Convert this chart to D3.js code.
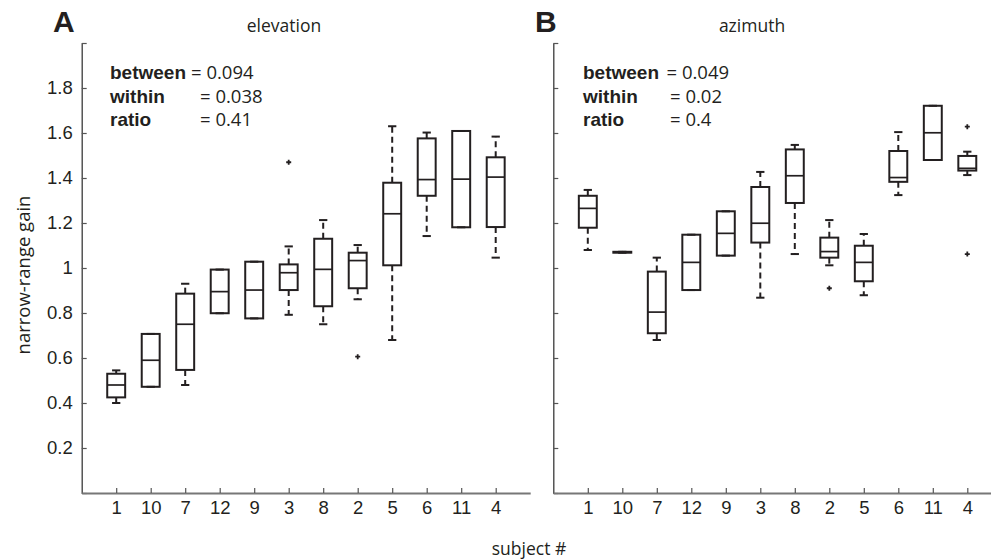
<!DOCTYPE html>
<html>
<head>
<meta charset="utf-8">
<script src="https://cdn.jsdelivr.net/npm/d3@7"></script>
<style>
  html, body { margin: 0; padding: 0; background: #fff; }
  svg { display: block; }
</style>
</head>
<body>
<svg id="chart" width="991" height="559"></svg>
<script>
// ---------- data ----------
const subjects = ["1","10","7","12","9","3","8","2","5","6","11","4"];
const yTicks = [0, 0.2, 0.4, 0.6, 0.8, 1, 1.2, 1.4, 1.6, 1.8, 2];

// elevation (panel A)
const elevLow    = [0.400, 0.472, 0.480, 0.799, 0.776, 0.792, 0.750, 0.861, 0.680, 1.142, 1.181, 1.046];
const elevQ1     = [0.425, 0.472, 0.547, 0.799, 0.776, 0.902, 0.830, 0.910, 1.012, 1.321, 1.181, 1.182];
const elevMedian = [0.480, 0.590, 0.750, 0.895, 0.902, 0.979, 0.994, 1.033, 1.241, 1.393, 1.395, 1.404];
const elevQ3     = [0.530, 0.707, 0.886, 0.993, 1.028, 1.016, 1.130, 1.068, 1.379, 1.576, 1.609, 1.492];
const elevHigh   = [0.545, 0.707, 0.930, 0.993, 1.028, 1.096, 1.213, 1.102, 1.630, 1.602, 1.609, 1.584];
const elevOutliers = [[], [], [], [], [], [1.47], [], [0.606], [], [], [], []];
const elevStats = ["0.094", "0.038", "0.41"];

// azimuth (panel B)
const aziLow    = [1.080, 1.068, 0.680, 0.902, 1.055, 0.868, 1.062, 1.012, 0.879, 1.324, 1.480, 1.413];
const aziQ1     = [1.179, 1.068, 0.710, 0.902, 1.055, 1.113, 1.289, 1.046, 0.941, 1.383, 1.480, 1.433];
const aziMedian = [1.265, 1.070, 0.804, 1.025, 1.154, 1.199, 1.410, 1.073, 1.025, 1.402, 1.601, 1.443];
const aziQ3     = [1.321, 1.072, 0.984, 1.148, 1.252, 1.360, 1.527, 1.135, 1.099, 1.520, 1.721, 1.498];
const aziHigh   = [1.347, 1.072, 1.046, 1.148, 1.252, 1.427, 1.547, 1.213, 1.151, 1.604, 1.721, 1.517];
const aziOutliers = [[], [], [], [], [], [], [], [0.91], [], [], [], [1.628, 1.062]];
const aziStats = ["0.049", "0.02", "0.4"];

const statNames = ["between", "within", "ratio"];

// ---------- drawing ----------
const svg = d3.select("#chart");
const ink = "#231f20";
const yTop = 43, yBottom = 493;
const y = d3.scaleLinear().domain([0, 2]).range([yBottom, yTop]);

function panel(opts) {
  const x = d3.scaleLinear().domain([0, 13]).range([opts.x0, opts.x0 + 448.5]);
  const g = svg.append("g");
  const step = x(1) - x(0);
  const bw = step * 0.26, cw = step * 0.12;

  // y axis
  const yAxis = d3.axisLeft(y).tickValues(yTicks).tickSizeInner(-5).tickSizeOuter(0).tickPadding(9)
    .tickFormat(d => (opts.yLabels && d > 0 && d < 2) ? String(+d.toFixed(1)) : "");
  const ya = g.append("g").attr("transform", `translate(${opts.x0},0)`).call(yAxis);
  ya.select(".domain").attr("stroke", "#3a3a3a").attr("stroke-width", 1.3);
  ya.selectAll(".tick line").attr("stroke", "#555").attr("stroke-width", 1.2);
  ya.selectAll(".tick text").attr("font-family", "Liberation Sans, Arial, sans-serif")
    .attr("font-size", 18.5).attr("fill", ink);

  // x axis
  const xAxis = d3.axisBottom(x).tickValues(d3.range(1, 13)).tickSizeInner(-5).tickSizeOuter(0).tickPadding(8)
    .tickFormat(d => subjects[d - 1]);
  const xa = g.append("g").attr("transform", `translate(0,${yBottom})`).call(xAxis);
  xa.select(".domain").attr("stroke", "#777").attr("stroke-width", 2);
  xa.selectAll(".tick line").attr("stroke", "#555").attr("stroke-width", 1.2);
  xa.selectAll(".tick text").attr("font-family", "Liberation Sans, Arial, sans-serif")
    .attr("font-size", 18.5).attr("fill", ink);

  // boxes
  const idx = d3.range(subjects.length);
  const bx = g.append("g").attr("fill", "none").attr("stroke", ink);
  idx.forEach(i => {
    const cx = x(i + 1);
    // whiskers (dashed)
    bx.append("line").attr("x1", cx).attr("x2", cx).attr("y1", y(opts.q3[i])).attr("y2", y(opts.high[i]))
      .attr("stroke-width", 2).attr("stroke-dasharray", "6,4");
    bx.append("line").attr("x1", cx).attr("x2", cx).attr("y1", y(opts.q1[i])).attr("y2", y(opts.low[i]))
      .attr("stroke-width", 2).attr("stroke-dasharray", "6,4");
    // caps
    [opts.high[i], opts.low[i]].forEach(v => {
      bx.append("line").attr("x1", cx - cw).attr("x2", cx + cw).attr("y1", y(v)).attr("y2", y(v))
        .attr("stroke-width", 2);
    });
    // box
    bx.append("rect").attr("x", cx - bw).attr("width", 2 * bw)
      .attr("y", y(opts.q3[i])).attr("height", Math.max(0.5, y(opts.q1[i]) - y(opts.q3[i])))
      .attr("stroke-width", 2).attr("fill", "none");
    // median
    bx.append("line").attr("x1", cx - bw).attr("x2", cx + bw).attr("y1", y(opts.median[i])).attr("y2", y(opts.median[i]))
      .attr("stroke-width", 1.7);
    // outliers
    opts.outliers[i].forEach(v => {
      bx.append("path").attr("d", `M${cx - 2.5},${y(v)}H${cx + 2.5}M${cx},${y(v) - 2.5}V${y(v) + 2.5}`)
        .attr("stroke-width", 1.8);
    });
  });

  // title + letter
  g.append("text").attr("x", opts.titleX).attr("y", 32).attr("text-anchor", "middle")
    .attr("font-family", "Open Sans, sans-serif").attr("font-size", 17.5).attr("fill", ink).text(opts.title);
  g.append("text").attr("x", opts.letterX).attr("y", 32)
    .attr("font-family", "Liberation Sans, Arial, sans-serif").attr("font-weight", "bold")
    .attr("font-size", 30).attr("fill", ink).text(opts.letter);

  // stats
  const rowY = [79, 102.5, 126];
  statNames.forEach((n, k) => {
    g.append("text").attr("x", opts.statX).attr("y", rowY[k])
      .attr("font-family", "Liberation Sans, Arial, sans-serif").attr("font-weight", "bold")
      .attr("font-size", 19).attr("fill", ink).text(n);
    g.append("text").attr("x", k === 0 ? opts.eqX0 : opts.eqX).attr("y", rowY[k])
      .attr("font-family", "Open Sans, sans-serif").attr("font-size", 18.5).attr("fill", ink)
      .text("= " + opts.stats[k]);
  });
}

panel({ x0: 81.7, yLabels: true, title: "elevation", titleX: 284, letter: "A", letterX: 53,
  low: elevLow, q1: elevQ1, median: elevMedian, q3: elevQ3, high: elevHigh, outliers: elevOutliers,
  stats: elevStats, statX: 110, eqX0: 191, eqX: 200 });
panel({ x0: 553.3, yLabels: false, title: "azimuth", titleX: 752, letter: "B", letterX: 535,
  low: aziLow, q1: aziQ1, median: aziMedian, q3: aziQ3, high: aziHigh, outliers: aziOutliers,
  stats: aziStats, statX: 583, eqX0: 666.5, eqX: 670 });

// axis titles
svg.append("text").attr("transform", "translate(30,275) rotate(-90)").attr("text-anchor", "middle")
  .attr("font-family", "Open Sans, sans-serif").attr("font-size", 18.5).attr("fill", ink).text("narrow-range gain");
svg.append("text").attr("x", 529).attr("y", 555).attr("text-anchor", "middle")
  .attr("font-family", "Open Sans, sans-serif").attr("font-size", 17.5).attr("fill", ink).text("subject #");
</script>
</body>
</html>
